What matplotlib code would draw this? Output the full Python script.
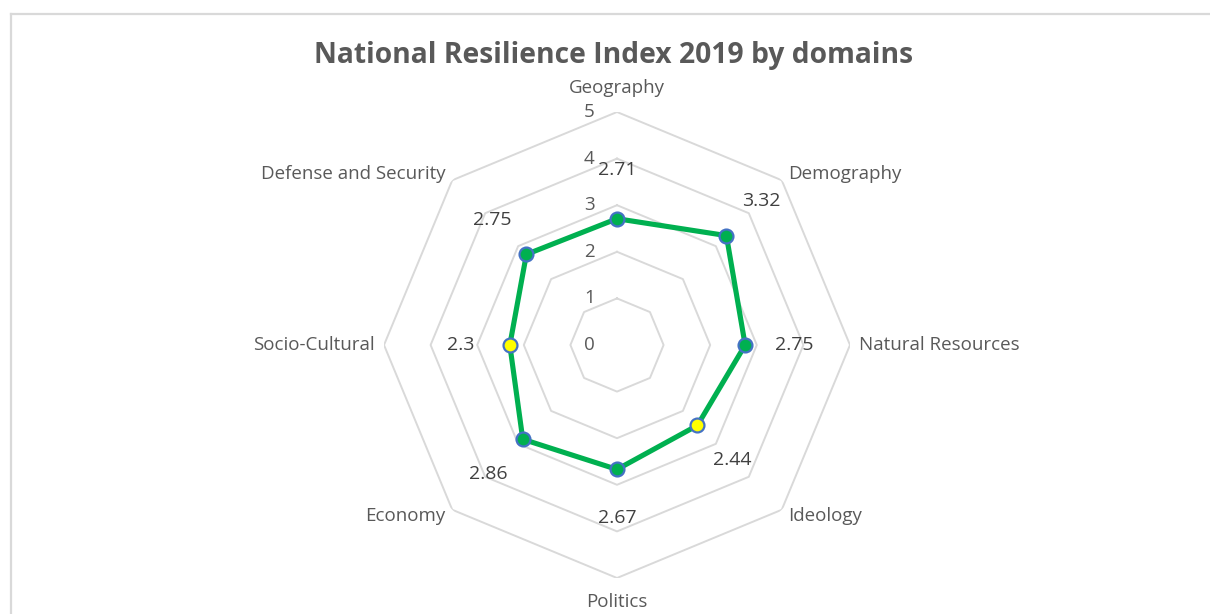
import matplotlib.pyplot as plt
import numpy as np
from matplotlib.lines import Line2D

plt.rcParams["font.family"] = ["Open Sans", "DejaVu Sans"]

# Data
domains = [
    "Geography",
    "Demography",
    "Natural Resources",
    "Ideology",
    "Politics",
    "Economy",
    "Socio-Cultural",
    "Defense and Security",
]
scores = [2.71, 3.32, 2.75, 2.44, 2.67, 2.86, 2.3, 2.75]
levels = [0, 1, 2, 3, 4, 5]

W, H = 1210, 614
fig = plt.figure(figsize=(W / 100, H / 100), dpi=100)

# chart frame (cropped on right / bottom)
fig.add_artist(Line2D([11 / W, 1], [1 - 14 / H, 1 - 14 / H], color="#D9D9D9", lw=1.6))
fig.add_artist(Line2D([11 / W, 11 / W], [0, 1 - 14 / H], color="#D9D9D9", lw=1.6))

cx, cy, rad = 617, 345, 233
ax = fig.add_axes([(cx - rad) / W, (H - cy - rad) / H, 2 * rad / W, 2 * rad / H],
                  projection="polar")
ax.set_theta_zero_location("N")
ax.set_theta_direction(-1)
ax.set_ylim(0, 5)
ax.grid(False)
ax.spines["polar"].set_visible(False)
ax.set_xticks([])
ax.set_yticks([])
ax.patch.set_alpha(0)

n = len(domains)
angles = np.linspace(0, 2 * np.pi, n, endpoint=False)
closed = np.append(angles, angles[0])

# octagon grid
for lv in levels[1:]:
    ax.plot(closed, [lv] * (n + 1), color="#D9D9D9", lw=1.4, zorder=1)

# scale labels
for lv in levels:
    ax.annotate(str(lv), (0, lv), xytext=(-16, 0), textcoords="offset points",
                ha="right", va="center", fontsize=13.5, color="#595959")

# series
vals = np.append(scores, scores[0])
ax.plot(closed, vals, color="#00B050", lw=3.7, zorder=3)
face = ["#FFFF00" if v < 2.5 else "#00B050" for v in scores]
for a, v, fc in zip(angles, scores, face):
    ax.plot(a, v, "o", ms=10, mfc=fc, mec="#4472C4", mew=1.6, zorder=4)
    ax.text(a, v + 1.05, f"{v:g}", ha="center", va="center",
            fontsize=14, color="#404040", zorder=5)

# category labels
for a, name in zip(angles, domains):
    s = np.sin(a)
    if abs(s) < 1e-6:
        ax.text(a, 5.52, name, ha="center", va="center", fontsize=13.5, color="#595959")
    else:
        ax.text(a, 5.2, name, ha="left" if s > 0 else "right", va="center",
                fontsize=13.5, color="#595959")

fig.text(614 / W, 1 - 56 / H, "National Resilience Index 2019 by domains",
         ha="center", va="center", fontsize=20.3, fontweight="bold", color="#595959")

fig.savefig("out.png", dpi=100)
